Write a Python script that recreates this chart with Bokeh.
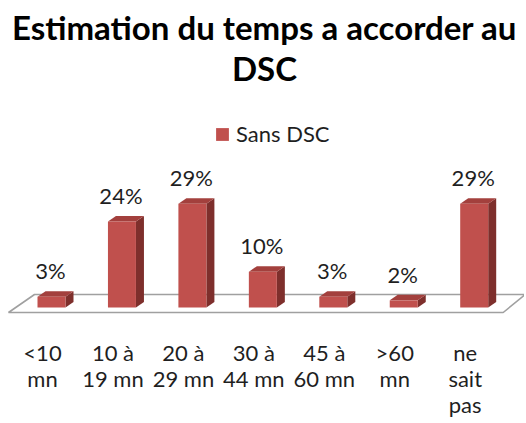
from bokeh.plotting import figure
from bokeh.models import Label, Legend, LegendItem, Range1d
from bokeh.core.properties import value
from bokeh.embed import file_html
from bokeh.resources import INLINE

# ---- data ----
title_lines = ["Estimation du temps a accorder au", "DSC"]
series_name = "Sans DSC"
categories = ["<10\nmn", "10 à\n19 mn", "20 à\n29 mn", "30 à\n44 mn", "45 à\n60 mn", ">60\nmn", "ne\nsait\npas"]
values = [3, 24, 29, 10, 3, 2, 29]
value_labels = ["3%", "24%", "29%", "10%", "3%", "2%", "29%"]

# ---- layout constants (pixels) ----
W, H = 524, 421
U = 70.45         # px per category
K = 3.58          # px per percent
ZERO = 307        # canvas y of the bars' base
CX0 = 42          # canvas x of the first category centre
FONT = "Lato"
TXT = "#1f1f1f"
RED, TOP, SIDE = "#C0504D", "#A3403D", "#7E2F2C"

x0 = -CX0 / U
y0 = -(H - ZERO) / K
p = figure(width=W, height=H, output_backend="svg", toolbar_location=None,
           x_range=Range1d(x0, x0 + W / U), y_range=Range1d(y0, y0 + H / K),
           x_axis_location=None, y_axis_location=None,
           min_border_left=0, min_border_right=0, min_border_top=0,
           min_border_bottom=0, background_fill_color="white",
           border_fill_color="white")
p.outline_line_color = None
p.grid.visible = False

n = len(values)
idx = list(range(n))

# floor
fl = -34 / U
fr = (n - 1) + 38 / U
p.patch([fl, fr, fr + 22 / U, fl + 26 / U], [-5 / K, -5 / K, 13 / K, 13 / K],
        fill_color="white", line_color="#a0a0a0", line_width=1.6)

# bars (3D look)
dx, dy = 8 / U, 5.5 / K
lefts = [i - 5 / U for i in idx]
rights = [i + 23 / U for i in idx]
side_xs = [[r, r + dx, r + dx, r] for r in rights]
side_ys = [[0, dy, v + dy, v] for v in values]
top_xs = [[l, r, r + dx, l + dx] for l, r in zip(lefts, rights)]
top_ys = [[v, v, v + dy, v + dy] for v in values]
p.patches(side_xs, side_ys, fill_color=SIDE, line_color=None)
p.patches(top_xs, top_ys, fill_color=TOP, line_color=None)
front = p.quad(left=lefts, right=rights, bottom=0, top=values,
               fill_color=RED, line_color=None)

# value labels
p.text(x=[i + 8 / U for i in idx], y=values, text=value_labels,
       text_align="center", text_baseline="alphabetic", y_offset=-26,
       text_font=value(FONT), text_font_size="22px", text_color=TXT)

# category labels
p.text(x=idx, y=[0] * n, text=categories, y_offset=31,
       text_align="center", text_baseline="top", text_line_height=0.97,
       text_font=value(FONT), text_font_size="22px", text_color=TXT)

# title
for txt, anchor in zip(title_lines, [26, 67.5]):
    p.add_layout(Label(x=264, y=H - anchor, x_units="screen", y_units="screen",
                       text=txt, text_align="center", text_baseline="alphabetic",
                       text_font=FONT, text_font_style="bold",
                       text_font_size="33px", text_color="black"))

# legend
legend = Legend(items=[LegendItem(label=series_name, renderers=[front])],
                location=(214, 274), orientation="horizontal",
                glyph_width=16, glyph_height=16, label_height=16,
                label_standoff=6, padding=0, margin=0, spacing=0,
                border_line_color=None, background_fill_alpha=0,
                label_text_font=FONT, label_text_font_size="22px",
                label_text_color=TXT)
p.add_layout(legend)

open("out.html", "w").write(file_html(p, INLINE))
